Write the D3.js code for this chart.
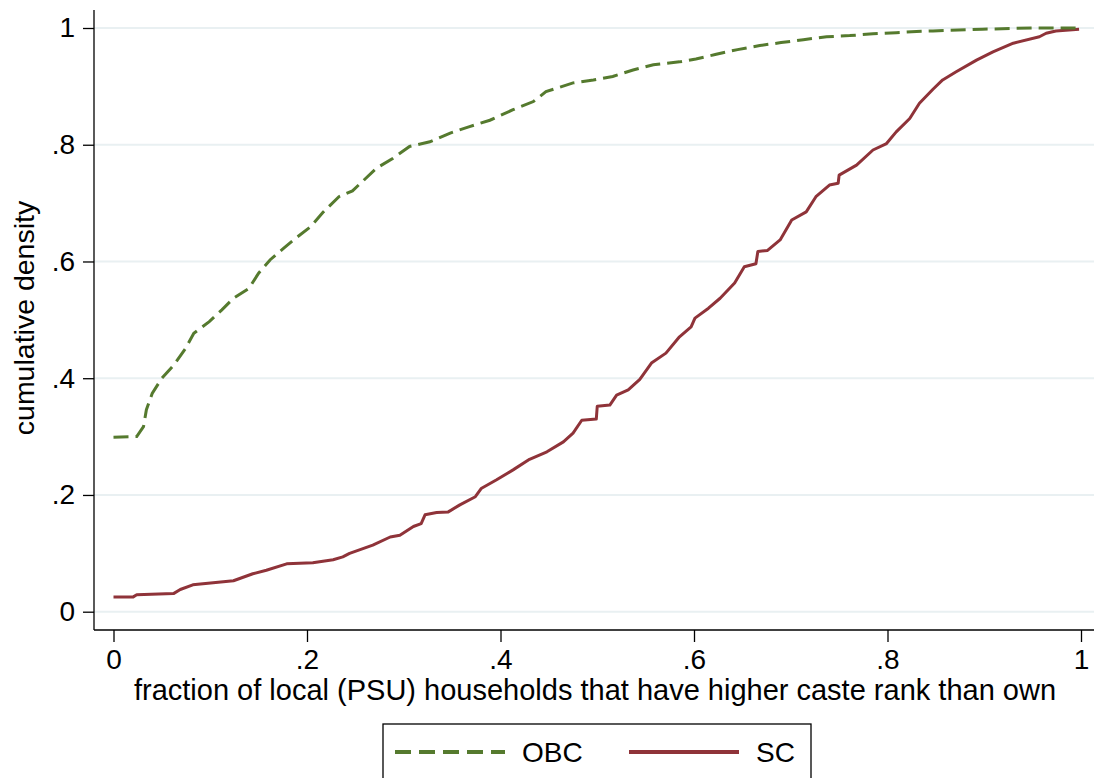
<!DOCTYPE html>
<html>
<head>
<meta charset="utf-8">
<script src="https://cdn.jsdelivr.net/npm/d3@7"></script>
<style>
  body { margin: 0; background: #fff; }
  text { font-family: "Liberation Sans", Arial, sans-serif; fill: #000; }
</style>
</head>
<body>
<svg id="chart"></svg>
<script>
// cumulative distribution
const obcX = [0, 0.024, 0.031, 0.034, 0.040, 0.050, 0.0625, 0.0745, 0.083, 0.099, 0.112, 0.124, 0.140,
  0.150, 0.162, 0.176, 0.190, 0.204, 0.217, 0.233, 0.247, 0.272, 0.289, 0.306, 0.327, 0.348, 0.368,
  0.389, 0.413, 0.434, 0.447, 0.475, 0.496, 0.516, 0.537, 0.558, 0.585, 0.602, 0.623, 0.645, 0.668,
  0.690, 0.713, 0.737, 0.761, 0.785, 0.809, 0.830, 0.847, 0.898, 0.950, 1.0];
const obcY = [0.299, 0.300, 0.317, 0.346, 0.374, 0.400, 0.423, 0.451, 0.477, 0.497, 0.517, 0.537, 0.554,
  0.580, 0.603, 0.623, 0.642, 0.660, 0.685, 0.711, 0.721, 0.760, 0.777, 0.797, 0.805, 0.820, 0.831,
  0.842, 0.860, 0.874, 0.891, 0.906, 0.911, 0.917, 0.928, 0.937, 0.942, 0.947, 0.955, 0.963, 0.970,
  0.975, 0.980, 0.985, 0.987, 0.990, 0.992, 0.994, 0.995, 0.998, 1.0, 1.0];

const scX = [0, 0.020, 0.024, 0.062, 0.069, 0.082, 0.124, 0.144, 0.158, 0.179, 0.206, 0.227, 0.237,
  0.244, 0.268, 0.286, 0.296, 0.310, 0.318, 0.322, 0.334, 0.346, 0.358, 0.374, 0.380, 0.396, 0.413,
  0.430, 0.448, 0.465, 0.475, 0.484, 0.499, 0.500, 0.513, 0.520, 0.532, 0.544, 0.556, 0.571, 0.585,
  0.597, 0.601, 0.615, 0.627, 0.642, 0.652, 0.664, 0.666, 0.676, 0.689, 0.701, 0.716, 0.726, 0.740,
  0.749, 0.750, 0.768, 0.785, 0.799, 0.809, 0.823, 0.833, 0.847, 0.857, 0.871, 0.892, 0.909, 0.930,
  0.957, 0.964, 0.974, 0.998];
const scY = [0.025, 0.025, 0.029, 0.031, 0.038, 0.046, 0.053, 0.065, 0.071, 0.082, 0.084, 0.089, 0.094,
  0.100, 0.114, 0.128, 0.131, 0.146, 0.151, 0.166, 0.170, 0.171, 0.183, 0.197, 0.211, 0.226, 0.243,
  0.261, 0.274, 0.291, 0.306, 0.328, 0.330, 0.352, 0.354, 0.371, 0.380, 0.398, 0.426, 0.443, 0.471,
  0.488, 0.503, 0.520, 0.537, 0.563, 0.591, 0.596, 0.617, 0.619, 0.637, 0.671, 0.685, 0.711, 0.731,
  0.734, 0.748, 0.765, 0.791, 0.802, 0.822, 0.845, 0.871, 0.895, 0.911, 0.925, 0.945, 0.959, 0.974,
  0.985, 0.991, 0.995, 0.998];

const xTicks = [0, 0.2, 0.4, 0.6, 0.8, 1];
const xTickLabels = ['0', '.2', '.4', '.6', '.8', '1'];
const yTicks = [0, 0.2, 0.4, 0.6, 0.8, 1];
const yTickLabels = ['0', '.2', '.4', '.6', '.8', '1'];

const seriesNames = ['OBC', 'SC'];
const seriesColors = ['#557a2e', '#8f3339'];

const width = 1094, height = 778;
const axisLeftX = 94, axisBottomY = 630, axisTopY = 10;

const svg = d3.select('#chart')
  .attr('width', width)
  .attr('height', height);

const x = d3.scaleLinear().domain([0, 1]).range([113.5, 1081]);
const y = d3.scaleLinear().domain([0, 1]).range([611.7, 28]);

// grid
svg.append('g')
  .selectAll('line')
  .data(yTicks)
  .join('line')
  .attr('x1', axisLeftX)
  .attr('x2', width)
  .attr('y1', d => y(d))
  .attr('y2', d => y(d))
  .attr('stroke', '#e9f0f2')
  .attr('stroke-width', 2);

// axes
const yaxis = d3.axisLeft(y)
  .tickValues(yTicks)
  .tickFormat((d, i) => yTickLabels[i])
  .tickSize(11)
  .tickPadding(8);

const xaxis = d3.axisBottom(x)
  .tickValues(xTicks)
  .tickFormat((d, i) => xTickLabels[i])
  .tickSize(12)
  .tickPadding(7);

const yg = svg.append('g')
  .attr('transform', `translate(${axisLeftX},0)`)
  .call(yaxis);
const xg = svg.append('g')
  .attr('transform', `translate(0,${axisBottomY})`)
  .call(xaxis);

[yg, xg].forEach(g => {
  g.select('.domain').remove();
  g.selectAll('.tick line').attr('stroke', '#000').attr('stroke-width', 1.3);
  g.selectAll('.tick text').style('font-size', '28px').attr('fill', '#000');
});

svg.append('line')
  .attr('x1', axisLeftX).attr('x2', axisLeftX)
  .attr('y1', axisTopY).attr('y2', axisBottomY)
  .attr('stroke', '#000').attr('stroke-width', 1.3);
svg.append('line')
  .attr('x1', axisLeftX).attr('x2', width)
  .attr('y1', axisBottomY).attr('y2', axisBottomY)
  .attr('stroke', '#000').attr('stroke-width', 1.3);

// titles
svg.append('text')
  .attr('x', (133 + 1057) / 2)
  .attr('y', 700)
  .attr('text-anchor', 'middle')
  .style('font-size', '29px')
  .text('fraction of local (PSU) households that have higher caste rank than own');

svg.append('text')
  .attr('transform', 'rotate(-90)')
  .attr('x', -318)
  .attr('y', 34)
  .attr('text-anchor', 'middle')
  .style('font-size', '28.5px')
  .text('cumulative density');

// curves
const line = d3.line()
  .x(d => x(d[0]))
  .y(d => y(d[1]));

const obc = obcX.map((v, i) => [v, obcY[i]]);
const sc = scX.map((v, i) => [v, scY[i]]);

svg.append('path')
  .attr('d', line(sc))
  .attr('fill', 'none')
  .attr('stroke', seriesColors[1])
  .attr('stroke-width', 3)
  .attr('stroke-linejoin', 'round');

svg.append('path')
  .attr('d', line(obc))
  .attr('fill', 'none')
  .attr('stroke', seriesColors[0])
  .attr('stroke-width', 3)
  .attr('stroke-dasharray', '15,7');

// legend
const legend = svg.append('g');
legend.append('rect')
  .attr('x', 383).attr('y', 724)
  .attr('width', 428).attr('height', 70)
  .attr('fill', '#fff')
  .attr('stroke', '#000')
  .attr('stroke-width', 1.3);

const items = [
  { name: seriesNames[0], color: seriesColors[0], dash: '16,8', x0: 395, tx: 522 },
  { name: seriesNames[1], color: seriesColors[1], dash: null, x0: 629, tx: 756 }
];
items.forEach(it => {
  legend.append('line')
    .attr('x1', it.x0).attr('x2', it.x0 + 110)
    .attr('y1', 752).attr('y2', 752)
    .attr('stroke', it.color)
    .attr('stroke-width', 4)
    .attr('stroke-dasharray', it.dash);
  legend.append('text')
    .attr('x', it.tx)
    .attr('y', 762)
    .style('font-size', '28px')
    .text(it.name);
});
</script>
</body>
</html>
